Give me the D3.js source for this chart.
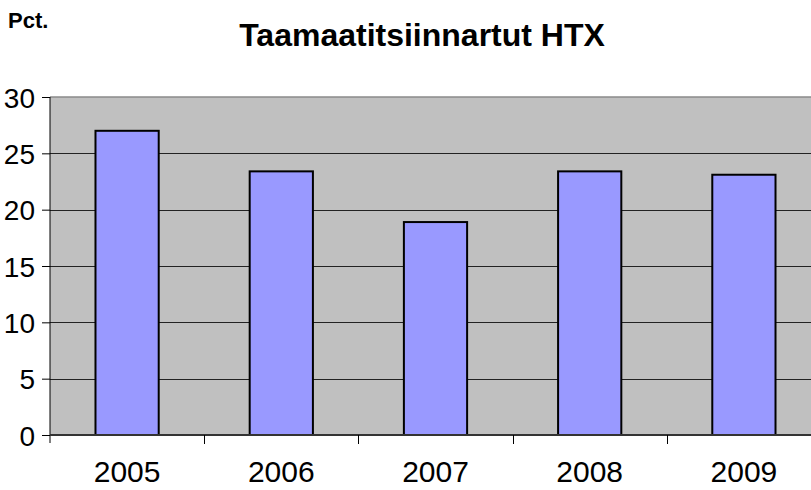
<!DOCTYPE html>
<html>
<head>
<meta charset="utf-8">
<script src="https://cdn.jsdelivr.net/npm/d3@7"></script>
<style>
  body { margin: 0; background: #fff; }
  svg { font-family: "Liberation Sans", Arial, sans-serif; }
</style>
</head>
<body>
<svg id="chart" width="811" height="490"></svg>
<script>
const years = ["2005", "2006", "2007", "2008", "2009"];
const values = [27.0, 23.4, 18.9, 23.4, 23.1];
const yTicks = [0, 5, 10, 15, 20, 25, 30];

const width = 811;
const height = 490;
const margins = { top: 97, right: -10, bottom: 55, left: 50 };

const svg = d3.select("#chart");

const x = d3
  .scaleBand()
  .domain(years)
  .range([margins.left, width - margins.right])
  .paddingInner(0.59)
  .paddingOuter(0.295);

const y = d3
  .scaleLinear()
  .domain([0, 30])
  .range([height - margins.bottom, margins.top]);

// plot background
svg
  .append("rect")
  .attr("x", margins.left)
  .attr("y", y(30))
  .attr("width", width - margins.left)
  .attr("height", y(0) - y(30))
  .attr("fill", "#c0c0c0");

// top border
svg
  .append("line")
  .attr("x1", margins.left)
  .attr("x2", width)
  .attr("y1", y(30))
  .attr("y2", y(30))
  .attr("stroke", "#8a8a8a")
  .attr("stroke-width", 1.5);

// gridlines
svg
  .selectAll(".grid")
  .data(yTicks.filter((d) => d > 0 && d < 30))
  .enter()
  .append("line")
  .attr("class", "grid")
  .attr("x1", margins.left)
  .attr("x2", width)
  .attr("y1", (d) => Math.round(y(d)) + 0.5)
  .attr("y2", (d) => Math.round(y(d)) + 0.5)
  .attr("stroke", "#222")
  .attr("stroke-width", 1);

// y axis
const yAxis = svg
  .append("g")
  .attr("transform", `translate(${margins.left},0)`)
  .call(d3.axisLeft(y).tickValues(yTicks).tickSize(8).tickPadding(7));
yAxis.select(".domain").attr("stroke", "#000").attr("d", `M0,${y(30)}V${y(0) + 8}`);
yAxis.selectAll("line").attr("stroke", "#000");
yAxis
  .selectAll("text")
  .attr("font-family", "Liberation Sans, Arial, sans-serif")
  .attr("font-size", "28px")
  .attr("fill", "#000")
  .attr("dy", "0.36em");

// bars
svg
  .selectAll(".bar")
  .data(values)
  .enter()
  .append("rect")
  .attr("class", "bar")
  .attr("x", (d, i) => x(years[i]))
  .attr("y", (d) => y(d))
  .attr("width", x.bandwidth())
  .attr("height", (d) => y(0) - y(d))
  .attr("fill", "#9999ff")
  .attr("stroke", "#000")
  .attr("stroke-width", 2);

// x axis
svg
  .append("line")
  .attr("x1", margins.left)
  .attr("x2", width)
  .attr("y1", y(0))
  .attr("y2", y(0))
  .attr("stroke", "#333")
  .attr("stroke-width", 2);

const boundaries = years.slice(1).map((d) => x(d) - x.step() * x.paddingInner() / 2);
svg
  .selectAll(".xtick")
  .data(boundaries)
  .enter()
  .append("line")
  .attr("class", "xtick")
  .attr("x1", (d) => Math.round(d) + 0.5)
  .attr("x2", (d) => Math.round(d) + 0.5)
  .attr("y1", y(0))
  .attr("y2", y(0) + 9)
  .attr("stroke", "#000");

svg
  .selectAll(".xlabel")
  .data(years)
  .enter()
  .append("text")
  .attr("class", "xlabel")
  .attr("x", (d) => x(d) + x.bandwidth() / 2)
  .attr("y", y(0) + 47)
  .attr("text-anchor", "middle")
  .attr("font-size", "30px")
  .text((d) => d);

// titles
svg
  .append("text")
  .attr("x", 422)
  .attr("y", 46)
  .attr("text-anchor", "middle")
  .attr("font-size", "32px")
  .attr("font-weight", "bold")
  .text("Taamaatitsiinnartut HTX");

svg
  .append("text")
  .attr("x", 8)
  .attr("y", 28)
  .attr("font-size", "22px")
  .attr("font-weight", "bold")
  .text("Pct.");
</script>
</body>
</html>
